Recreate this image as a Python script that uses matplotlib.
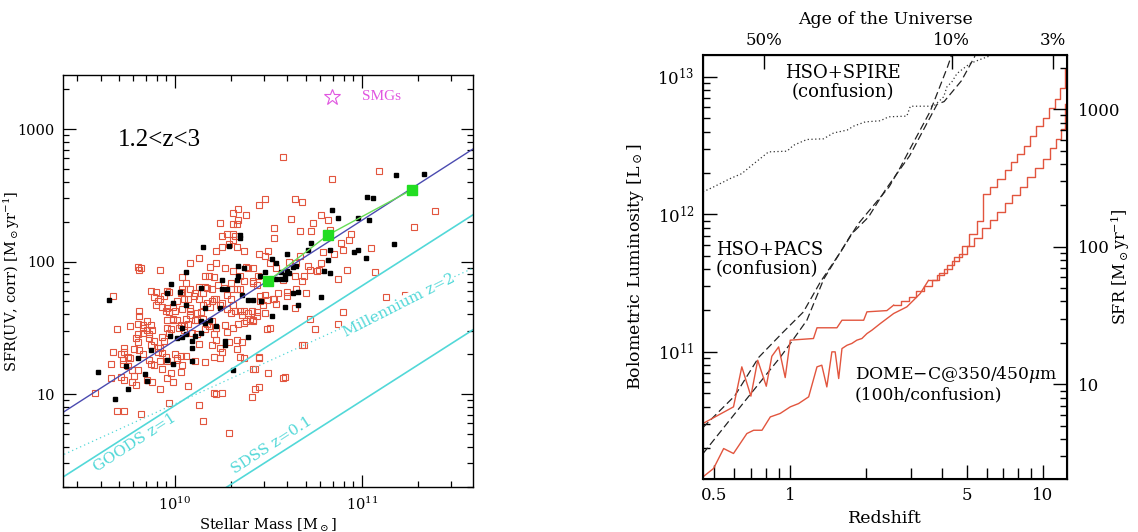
import numpy as np
import matplotlib
matplotlib.use("Agg")
import matplotlib.pyplot as plt
from matplotlib.ticker import FixedLocator, NullFormatter, LogLocator

plt.rcParams["font.family"] = ["DejaVu Serif"]
plt.rcParams["mathtext.fontset"] = "dejavuserif"

# ---------------- left panel: SFR vs stellar mass (log10 Msun, log10 Msun/yr)
red_points = [
    (10.58, 2.79), (10.84, 2.62), (11.09, 2.68), (11.39, 2.38), (11.28, 2.26), (10.48, 2.47),
    (10.64, 2.47), (10.68, 2.45), (10.45, 2.43), (10.34, 2.40), (10.31, 2.37), (10.38, 2.35),
    (10.34, 2.31), (10.33, 2.28), (10.31, 2.28), (10.24, 2.29), (10.53, 2.25), (10.53, 2.18),
    (10.62, 2.32), (10.67, 2.23), (10.73, 2.23), (10.74, 2.29), (10.78, 2.35), (10.82, 2.31),
    (10.83, 2.24), (10.94, 2.21), (10.89, 2.14), (10.93, 2.16), (11.05, 2.10), (10.32, 2.19),
    (10.31, 2.16), (10.33, 2.11), (10.29, 2.13), (10.25, 2.19), (10.25, 2.11), (10.22, 2.08),
    (10.13, 2.03), (10.08, 1.99), (10.04, 1.88), (9.92, 1.94), (9.80, 1.96), (9.81, 1.94),
    (9.82, 1.95), (10.37, 2.08), (10.45, 2.06), (10.48, 2.04), (10.50, 2.08), (10.51, 1.99),
    (10.54, 1.95), (10.61, 2.00), (10.65, 1.99), (10.67, 2.04), (10.71, 1.97), (10.72, 1.94),
    (10.78, 1.99), (10.79, 2.07), (10.85, 2.06), (10.90, 2.09), (10.92, 1.94), (10.87, 1.87),
    (10.76, 1.93), (10.69, 1.89), (10.68, 1.85), (10.64, 1.89), (10.65, 1.79), (10.64, 1.65),
    (10.60, 1.77), (10.58, 1.86), (10.455, 1.74), (10.44, 1.82), (10.42, 1.85), (10.39, 1.95),
    (10.38, 1.96), (10.35, 1.89), (10.37, 1.85), (10.31, 1.93), (10.30, 1.84), (10.33, 1.79),
    (10.30, 1.79), (10.30, 1.72), (10.31, 1.67), (10.21, 1.88), (10.23, 1.82), (10.19, 1.96),
    (10.22, 1.99), (10.16, 1.89), (10.17, 1.80), (10.15, 1.76), (10.13, 1.81), (10.11, 1.76),
    (10.08, 1.79), (10.06, 1.84), (10.04, 1.79), (10.03, 1.76), (10.01, 1.70), (9.99, 1.66),
    (9.97, 1.77), (9.96, 1.78), (9.90, 1.77), (9.89, 1.73), (9.91, 1.70), (9.90, 1.67),
    (9.87, 1.78), (9.93, 1.66), (9.95, 1.63), (9.97, 1.62), (10.04, 1.64), (10.05, 1.72),
    (10.07, 1.72), (10.08, 1.65), (10.13, 1.72), (10.15, 1.67), (10.17, 1.69), (10.19, 1.66),
    (10.21, 1.72), (10.22, 1.72), (10.24, 1.67), (10.25, 1.69), (10.28, 1.64), (10.30, 1.61),
    (10.32, 1.63), (10.35, 1.63), (10.37, 1.63), (10.39, 1.61), (10.41, 1.63), (10.44, 1.59),
    (10.455, 1.70), (10.49, 1.71), (10.53, 1.72), (10.55, 1.76), (10.38, 1.55), (10.42, 1.56),
    (10.48, 1.61), (10.49, 1.49), (10.69, 1.37), (10.72, 1.57), (10.75, 1.49), (10.87, 1.53),
    (10.90, 1.62), (11.23, 1.75), (11.13, 1.73), (11.07, 1.92), (9.81, 1.63), (9.81, 1.59),
    (9.80, 1.53), (9.83, 1.52), (9.85, 1.55), (9.76, 1.51), (9.69, 1.49), (9.67, 1.32),
    (9.73, 1.35), (9.73, 1.32), (9.75, 1.28), (9.79, 1.42), (9.80, 1.45), (9.83, 1.46),
    (9.86, 1.42), (9.87, 1.37), (9.89, 1.40), (9.91, 1.35), (9.93, 1.43), (9.96, 1.50),
    (9.98, 1.49), (9.99, 1.56), (10.01, 1.56), (10.03, 1.52), (10.05, 1.48), (10.07, 1.53),
    (10.09, 1.46), (10.12, 1.45), (10.13, 1.38), (10.12, 1.56), (10.15, 1.57), (10.16, 1.49),
    (10.18, 1.51), (10.20, 1.55), (10.22, 1.50), (10.22, 1.41), (10.24, 1.35), (10.25, 1.32),
    (10.29, 1.39), (10.31, 1.50), (10.33, 1.41), (10.33, 1.34), (10.35, 1.28), (10.36, 1.39),
    (9.72, 1.23), (9.75, 1.21), (9.77, 1.18), (9.80, 1.18), (9.87, 1.23), (9.89, 1.22),
    (9.92, 1.25), (9.93, 1.19), (9.98, 1.16), (10.01, 1.27), (10.04, 1.22), (10.06, 1.29),
    (10.11, 1.25), (10.16, 1.24), (9.66, 1.12), (9.66, 1.23), (9.57, 1.01), (9.69, 0.87),
    (9.73, 0.87), (9.77, 1.09), (9.79, 1.07), (9.82, 0.85), (9.85, 1.11), (9.88, 1.09),
    (9.92, 1.04), (9.96, 1.12), (9.99, 1.09), (10.03, 1.17), (10.07, 1.06), (10.13, 0.92),
    (9.97, 0.93), (10.21, 1.01), (10.25, 1.01), (10.15, 0.80), (10.29, 0.71), (10.37, 1.27),
    (10.42, 1.19), (10.43, 1.04), (10.45, 1.27), (10.50, 1.16), (10.59, 1.13), (10.41, 0.98),
    (10.45, 1.05), (9.67, 1.74), (9.71, 1.13), (9.73, 1.11), (9.78, 1.14), (10.04, 1.77),
    (10.10, 1.74), (9.92, 1.72), (9.94, 1.74), (9.96, 1.65), (10.00, 1.63), (10.08, 1.63),
    (9.83, 1.50), (9.85, 1.48), (9.86, 1.45), (9.80, 1.39), (9.78, 1.34), (9.71, 1.30),
    (9.72, 1.26), (9.76, 1.27), (9.81, 1.33), (9.83, 1.30), (9.86, 1.26), (9.97, 1.46),
    (10.02, 1.50), (10.05, 1.51), (9.92, 1.35), (9.94, 1.40), (9.96, 1.56), (9.99, 1.57),
    (10.06, 1.57), (10.08, 1.60), (10.11, 1.56), (10.12, 1.61), (10.14, 1.62), (9.87, 1.52),
    (9.88, 1.48), (9.91, 1.32), (9.93, 1.31), (9.95, 1.28), (9.96, 1.25), (10.00, 1.30),
    (10.01, 1.26), (10.03, 1.29), (10.31, 2.21), (10.28, 2.21), (10.18, 1.89), (10.27, 1.95),
    (10.42, 1.95), (10.445, 1.89), (10.77, 1.94), (10.16, 1.81), (10.20, 1.79), (10.26, 1.80),
    (10.28, 1.75), (10.35, 1.79), (10.42, 1.84), (10.48, 1.75), (10.525, 1.72), (10.54, 1.68),
    (10.60, 1.74), (10.70, 1.76), (10.20, 1.70), (10.36, 1.60), (10.40, 1.57), (10.44, 1.62),
    (10.47, 1.67), (10.42, 1.55), (10.51, 1.50), (10.17, 1.53), (10.21, 1.45), (10.27, 1.52),
    (10.28, 1.47), (10.34, 1.53), (10.37, 1.54), (10.20, 1.37), (10.21, 1.28), (10.24, 1.27),
    (10.45, 1.28), (10.43, 1.19), (10.58, 1.12), (10.68, 1.37), (10.22, 1.00),
]
black_points = [
    (11.33, 2.66), (11.18, 2.65), (11.03, 2.49), (11.06, 2.48), (11.04, 2.31), (10.84, 2.39),
    (10.87, 2.33), (10.98, 2.33), (10.73, 2.14), (10.71, 2.09), (10.83, 2.09), (10.96, 2.07),
    (10.98, 2.09), (11.02, 2.03), (10.82, 2.01), (10.80, 1.93), (10.83, 1.91), (11.17, 2.13),
    (10.60, 2.06), (10.52, 2.02), (10.54, 1.99), (10.57, 1.92), (10.59, 1.90), (10.60, 1.93),
    (10.61, 1.91), (10.63, 1.96), (10.65, 1.97), (10.54, 1.87), (10.57, 1.87), (10.59, 1.87),
    (10.63, 1.76), (10.66, 1.77), (10.59, 1.66), (10.66, 1.67), (10.78, 1.73), (10.52, 1.59),
    (10.48, 1.92), (10.455, 1.89), (10.25, 1.86), (10.29, 2.12), (10.15, 2.11), (10.06, 1.92),
    (9.98, 1.83), (9.96, 1.76), (10.35, 2.20), (10.35, 2.18), (10.34, 1.97), (10.37, 1.95),
    (10.33, 1.86), (10.34, 1.89), (10.39, 1.71), (10.42, 1.71), (10.46, 1.70), (10.36, 1.75),
    (10.28, 1.79), (10.25, 1.79), (10.14, 1.80), (10.16, 1.65), (10.24, 1.65), (10.19, 1.56),
    (10.16, 1.54), (10.14, 1.46), (10.22, 1.51), (10.27, 1.40), (10.27, 1.37), (10.39, 1.43),
    (10.31, 1.18), (10.04, 1.43), (10.04, 1.50), (10.01, 1.42), (9.975, 1.44), (10.06, 1.45),
    (10.09, 1.40), (10.09, 1.35), (10.11, 1.44), (10.06, 1.67), (9.99, 1.69), (10.025, 1.77),
    (10.14, 1.55), (9.96, 1.26), (9.99, 1.23), (10.09, 1.25), (9.87, 1.33), (9.80, 1.27),
    (9.74, 1.21), (9.84, 1.15), (9.85, 1.10), (9.75, 1.04), (9.68, 0.96), (9.59, 1.17),
    (9.65, 1.71),
]
green_mass = [3.14e10, 6.6e10, 1.85e11]
green_sfr = [71, 159, 348]
ms_mass, ms_sfr = [2.0e9, 5.0e11], [5.9, 880]
goods_mass, goods_sfr = [2.0e9, 5.0e11], [1.92, 280]
sdss_mass, sdss_sfr = [1.5e10, 5.0e11], [1.61, 38]
mill_mass, mill_sfr = [2.0e9, 5.0e11], [3.0, 104]

# ---------------- right panel: bolometric luminosity limits vs redshift (log10 values)
red_a_logz = [-0.346, -0.225, -0.192, -0.156, -0.129, -0.095, -0.073, -0.046, -0.020, 0.0,
              0.092, 0.106, 0.185, 0.205, 0.291, 0.304, 0.383, 0.41]
red_a_logl = [10.479, 10.600, 10.891, 10.678, 10.939, 10.750, 10.968, 11.036, 10.813, 11.085,
              11.097, 11.175, 11.175, 11.230, 11.230, 11.291, 11.30, 11.34]
red_a_step_logz = [0.41, 0.44, 0.47, 0.50, 0.53, 0.56, 0.59, 0.62, 0.65, 0.68, 0.71, 0.74, 0.765,
                   0.79, 0.82, 0.85, 0.875, 0.90, 0.925, 0.95, 0.975, 1.00, 1.025, 1.05, 1.07, 1.09]
red_a_step_logl = [11.34, 11.37, 11.40, 11.44, 11.48, 11.52, 11.57, 11.63, 11.69, 11.77, 11.86, 11.95,
                   12.15, 12.20, 12.26, 12.32, 12.38, 12.44, 12.50, 12.57, 12.64, 12.70, 12.77, 12.84,
                   12.92, 13.06]
red_b_logz = [-0.346, -0.304, -0.264, -0.225, -0.172, -0.145, -0.112, -0.079, -0.040, 0.0, 0.033,
              0.073, 0.106, 0.125, 0.145, 0.165, 0.178, 0.192, 0.205, 0.225, 0.244, 0.264, 0.284,
              0.304, 0.324, 0.357, 0.410, 0.462, 0.489, 0.515, 0.548]
red_b_logl = [10.091, 10.152, 10.297, 10.261, 10.406, 10.430, 10.430, 10.527, 10.552, 10.600, 10.624,
              10.673, 10.891, 10.903, 10.745, 11.0, 11.0, 10.806, 11.024, 11.048, 11.061, 11.085,
              11.097, 11.133, 11.158, 11.206, 11.279, 11.327, 11.376, 11.424, 11.52]
red_b_step_logz = [0.548, 0.58, 0.61, 0.64, 0.67, 0.70, 0.73, 0.76, 0.79, 0.82, 0.85, 0.88, 0.91,
                   0.94, 0.97, 1.00, 1.03, 1.055, 1.075, 1.09]
red_b_step_logl = [11.52, 11.56, 11.60, 11.66, 11.71, 11.77, 11.83, 11.90, 11.96, 12.02, 12.08, 12.14,
                   12.20, 12.27, 12.34, 12.40, 12.48, 12.55, 12.62, 12.80]
pacs_a_logz = [-0.346, -0.22, -0.125, -0.03, 0.052, 0.12, 0.201, 0.269, 0.337, 0.392, 0.433, 0.473,
               0.555, 0.623, 0.64]
pacs_a_logl = [10.45, 10.68, 10.96, 11.14, 11.29, 11.51, 11.73, 11.93, 12.08, 12.20, 12.33, 12.47,
               12.75, 13.07, 13.16]
pacs_b_logz = [-0.346, -0.172, -0.04, 0.0, 0.066, 0.133, 0.242, 0.31, 0.378, 0.473, 0.582, 0.61,
               0.678, 0.732]
pacs_b_logl = [10.26, 10.66, 10.96, 11.06, 11.23, 11.53, 11.855, 11.98, 12.18, 12.425, 12.80, 12.82,
               12.97, 13.15]
spire_logz = [-0.346, -0.304, -0.238, -0.192, -0.152, -0.119, -0.086, -0.013, 0.013, 0.066, 0.132,
              0.172, 0.225, 0.251, 0.297, 0.357, 0.390, 0.462, 0.476, 0.568, 0.608, 0.621, 0.641,
              0.661, 0.687, 0.713, 0.753, 0.793]
spire_logl = [12.163, 12.199, 12.26, 12.296, 12.357, 12.405, 12.454, 12.459, 12.502, 12.544, 12.549,
              12.592, 12.612, 12.641, 12.672, 12.680, 12.709, 12.714, 12.786, 12.786, 12.854, 12.927,
              12.964, 13.024, 13.061, 13.097, 13.126, 13.153]
age_tick_z = [0.786, 4.36, 11.0]
age_tick_labels = ["50%", "10%", "3%"]
sfr_per_lsun = 1.72e-10

RED = "#e2553e"
CYAN = "#52d8d8"

fig = plt.figure(figsize=(11.38, 5.32), dpi=100)

# ================= left panel
ax = fig.add_axes([63 / 1138, 45 / 532, 410 / 1138, 412 / 532])
ax.set_xscale("log")
ax.set_yscale("log")

rp = np.array(red_points)
bp = np.array(black_points)
ax.plot(10 ** rp[:, 0], 10 ** rp[:, 1], "s", ms=4.0, mfc="none", mec=RED, mew=0.8, ls="none")
ax.plot(10 ** bp[:, 0], 10 ** bp[:, 1], "s", ms=3.5, color="black", ls="none")

ax.plot(goods_mass, goods_sfr, color=CYAN, lw=1.2)
ax.plot(sdss_mass, sdss_sfr, color=CYAN, lw=1.2)
ax.plot(mill_mass, mill_sfr, color=CYAN, lw=0.9, ls=(0, (1, 2.5)))
ax.plot(ms_mass, ms_sfr, color="#4b4bb0", lw=1.0)
ax.plot(green_mass, green_sfr, color="#66dd55", lw=1.0)
ax.plot(green_mass, green_sfr, "s", ms=7, color="#22dd22", ls="none")

ax.set_xlim(2.52e9, 3.93e11)
ax.set_ylim(1.99, 2557)

ax.text(10 ** 9.786, 10 ** 0.632, "GOODS z=1", color=CYAN, fontsize=11, rotation=33,
        ha="center", va="center", rotation_mode="anchor")
ax.text(10 ** 10.519, 10 ** 0.617, "SDSS z=0.1", color=CYAN, fontsize=11, rotation=33,
        ha="center", va="center", rotation_mode="anchor")
ax.text(10 ** 11.198, 10 ** 1.666, "Millennium z=2", color=CYAN, fontsize=11, rotation=27,
        ha="center", va="center", rotation_mode="anchor",
        bbox=dict(facecolor="white", edgecolor="none", pad=0.5))

ax.text(0.134, 0.842, "1.2<z<3", transform=ax.transAxes, fontsize=18,
        family=["Liberation Serif"], va="center", ha="left")
ax.plot([0.656], [0.947], marker="*", ms=12, mfc="none", mec="#e055e0", mew=0.8,
        transform=ax.transAxes, ls="none")
ax.text(0.729, 0.947, "SMGs", transform=ax.transAxes, color="#e055e0", fontsize=11,
        family=["Liberation Serif"], va="center", ha="left")

ax.set_yticks([10, 100, 1000])
ax.set_yticklabels(["10", "100", "1000"])
ax.yaxis.set_minor_locator(LogLocator(base=10, subs=np.arange(2, 10)))
ax.yaxis.set_minor_formatter(NullFormatter())
ax.xaxis.set_major_locator(FixedLocator([1e10, 1e11]))
ax.xaxis.set_minor_locator(LogLocator(base=10, subs=np.arange(2, 10)))
ax.xaxis.set_minor_formatter(NullFormatter())
ax.tick_params(which="both", direction="in", top=True, right=True, labelsize=10.5, width=0.9)
ax.tick_params(which="major", length=9, pad=6)
ax.tick_params(which="minor", length=4.5)
for s in ax.spines.values():
    s.set_linewidth(1.0)
ax.set_xlabel(r"Stellar Mass [M$_\odot$]", fontsize=10.5, labelpad=3)
ax.set_ylabel(r"SFR(UV, corr) [M$_\odot$yr$^{-1}$]", fontsize=10.5)
ax.yaxis.set_label_coords(-0.1, 0.5)

# ================= right panel
bx = fig.add_axes([703 / 1138, 53 / 532, 364 / 1138, 424 / 532])
bx.set_xscale("log")
bx.set_yscale("log")

bx.plot(10 ** np.array(spire_logz), 10 ** np.array(spire_logl), color="#333333", lw=0.9,
        ls=(0, (1, 2)))
bx.plot(10 ** np.array(pacs_a_logz), 10 ** np.array(pacs_a_logl), color="#222222", lw=0.9,
        ls=(0, (6, 3)))
bx.plot(10 ** np.array(pacs_b_logz), 10 ** np.array(pacs_b_logl), color="#222222", lw=0.9,
        ls=(0, (6, 3)))
bx.plot(10 ** np.array(red_a_logz), 10 ** np.array(red_a_logl), color=RED, lw=1.0)
bx.plot(10 ** np.array(red_a_step_logz), 10 ** np.array(red_a_step_logl), color=RED, lw=1.0,
        drawstyle="steps-post")
bx.plot(10 ** np.array(red_b_logz), 10 ** np.array(red_b_logl), color=RED, lw=1.0)
bx.plot(10 ** np.array(red_b_step_logz), 10 ** np.array(red_b_step_logl), color=RED, lw=1.0,
        drawstyle="steps-post")

bx.set_xlim(0.451, 12.5)
bx.set_ylim(1.19e10, 1.44e13)

bx.text(10 ** 0.208, 10 ** 12.958, "HSO+SPIRE\n(confusion)", fontsize=13, ha="center",
        va="center", multialignment="center", linespacing=1.1)
bx.text(10 ** -0.295, 10 ** 11.669, "HSO+PACS\n(confusion)", fontsize=13, ha="left",
        va="center", linespacing=1.1)
bx.text(10 ** 0.256, 10 ** 10.77, "DOME\u2212C@350/450$\\mu$m\n(100h/confusion)", fontsize=12.3,
        ha="left", va="center", linespacing=1.1)

bx.xaxis.set_major_locator(FixedLocator([0.5, 1, 5, 10]))
bx.set_xticklabels(["0.5", "1", "5", "10"])
bx.xaxis.set_minor_locator(FixedLocator([0.6, 0.7, 0.8, 0.9, 2, 3, 4, 6, 7, 8, 9]))
bx.xaxis.set_minor_formatter(NullFormatter())
bx.yaxis.set_minor_locator(LogLocator(base=10, subs=np.arange(2, 10)))
bx.yaxis.set_minor_formatter(NullFormatter())
bx.tick_params(which="both", direction="in", top=False, right=False, labelsize=12, width=1.0)
bx.tick_params(which="major", length=10, pad=6)
bx.tick_params(which="minor", length=5)
bx.tick_params(axis="x", which="minor", length=8)
for s in bx.spines.values():
    s.set_linewidth(1.5)
bx.set_xlabel("Redshift", fontsize=12.5, labelpad=4)
bx.set_ylabel(r"Bolometric Luminosity [L$_\odot$]", fontsize=12.5, labelpad=8)

# right axis: SFR
sx = bx.twinx()
sx.set_yscale("log")
sx.set_ylim(1.19e10 * sfr_per_lsun, 1.44e13 * sfr_per_lsun)
sx.set_yticks([10, 100, 1000])
sx.set_yticklabels(["10", "100", "1000"])
sx.yaxis.set_minor_locator(LogLocator(base=10, subs=np.arange(2, 10)))
sx.yaxis.set_minor_formatter(NullFormatter())
sx.tick_params(which="both", direction="in", labelsize=12, width=1.0)
sx.tick_params(which="major", length=10, pad=8)
sx.tick_params(which="minor", length=5)
sx.set_ylabel(r"SFR [M$_\odot$yr$^{-1}$]", fontsize=11.5, rotation=90)
sx.yaxis.set_label_coords(1.115, 0.5)

# top axis: age of the universe
tx = bx.twiny()
tx.set_xscale("log")
tx.set_xlim(0.451, 12.5)
tx.xaxis.set_major_locator(FixedLocator(age_tick_z))
tx.set_xticklabels(age_tick_labels)
tx.xaxis.set_minor_locator(FixedLocator([]))
tx.tick_params(which="major", direction="in", length=10, width=1.0, labelsize=12, pad=4)
tx.set_xlabel("Age of the Universe", fontsize=12.5, labelpad=6)

fig.savefig("out.png", dpi=100)
